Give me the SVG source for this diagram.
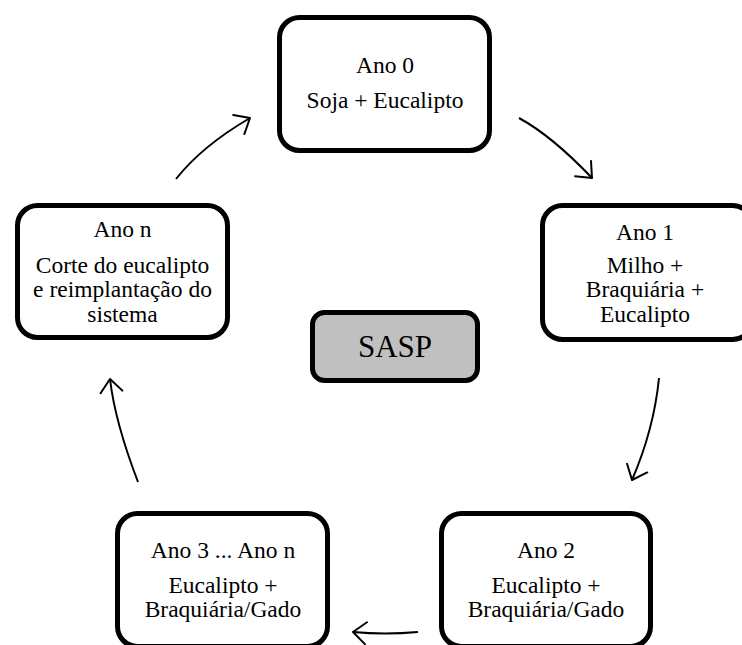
<svg xmlns="http://www.w3.org/2000/svg" width="742" height="645" viewBox="0 0 742 645">
<style>
.box{fill:#fff;stroke:#000;stroke-width:5}
.center{fill:#c0c0c0;stroke:#000;stroke-width:5}
text{font-family:'Liberation Serif','Times New Roman','DejaVu Serif',serif;font-size:23.5px;fill:#000;text-anchor:middle}
.big{font-size:31px}
.c{fill:none;stroke:#000;stroke-width:2;marker-end:url(#ah)}
</style>
<defs>
<marker id="ah" markerUnits="userSpaceOnUse" markerWidth="30" markerHeight="30" refX="0" refY="0" orient="auto" overflow="visible">
<path d="M-13,-11 L0,0 L-13,11" fill="none" stroke="#000" stroke-width="2" stroke-linecap="round" stroke-linejoin="round"/>
</marker>
</defs>
<rect width="742" height="645" fill="#fff"/>
<g id="connectors">
<path class="c" d="M519,118 Q552,136 592,178"/>
<path class="c" d="M659,378 Q654,429 632,480"/>
<path class="c" d="M418,632 Q385,635 353,632"/>
<path class="c" d="M138,482 Q115,422 110,379"/>
<path class="c" d="M176,179 Q202,146 250,118"/>
</g>
<g id="ano0" font-family="Liberation Serif, serif">
<rect class="box" x="279.5" y="17.5" width="210" height="133" rx="20"/>
<text x="385" y="73">Ano 0</text>
<text x="385" y="108">Soja + Eucalipto</text>
</g>
<g id="ano1">
<rect class="box" x="542.5" y="205.5" width="210" height="134" rx="20"/>
<text x="645" y="240">Ano 1</text>
<text x="645" y="273">Milho +</text>
<text x="645" y="297">Braquiária +</text>
<text x="645" y="322">Eucalipto</text>
</g>
<g id="ano2">
<rect class="box" x="441.5" y="513.5" width="209" height="133" rx="20"/>
<text x="546" y="558">Ano 2</text>
<text x="546" y="593">Eucalipto +</text>
<text x="546" y="617">Braquiária/Gado</text>
</g>
<g id="ano3n">
<rect class="box" x="117.5" y="513.5" width="210" height="133" rx="20"/>
<text x="223" y="558">Ano 3 ... Ano n</text>
<text x="223" y="593">Eucalipto +</text>
<text x="223" y="617">Braquiária/Gado</text>
</g>
<g id="anon">
<rect class="box" x="17.5" y="205.5" width="210" height="132" rx="20"/>
<text x="122.5" y="237">Ano n</text>
<text x="122.5" y="273">Corte do eucalipto</text>
<text x="122.5" y="297">e reimplantação do</text>
<text x="122.5" y="322">sistema</text>
</g>
<g id="sasp">
<rect class="center" x="312.5" y="312.5" width="165" height="68" rx="12"/>
<text class="big" x="395" y="357">SASP</text>
</g>
</svg>
